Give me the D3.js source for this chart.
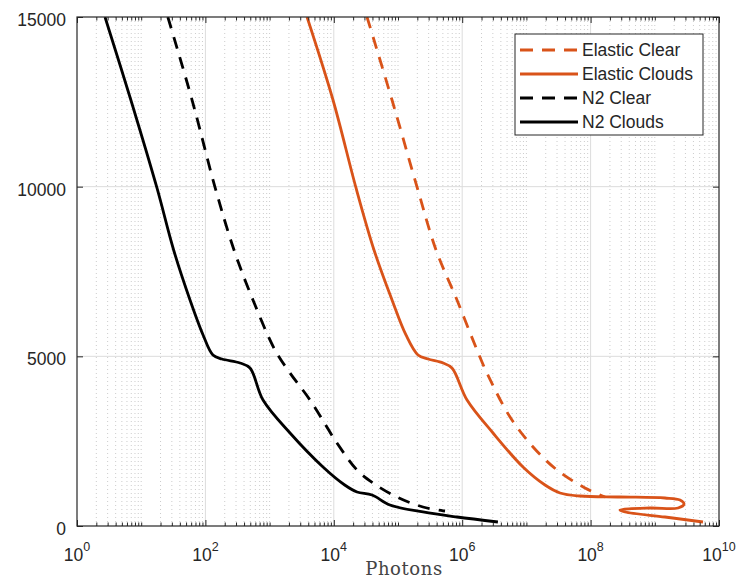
<!DOCTYPE html>
<html>
<head>
<meta charset="utf-8">
<script src="https://cdn.jsdelivr.net/npm/d3@7"></script>
<style>
  body { margin: 0; background: #fff; }
  svg { display: block; }
</style>
</head>
<body>
<svg id="chart" width="742" height="583"></svg>
<script>
// Altitude (m) against received photon count for each channel and sky condition

const photonsElasticClear = [32900, 80700, 198000, 391000, 830000, 1.70e6, 2.43e6, 5.56e6, 1.27e7, 3.0e7, 8.19e7, 1.68e8];
const altitudeElasticClear = [15000, 12554, 9990, 8134, 6660, 5187, 4509, 3212, 2328, 1650, 1120, 855];

const photonsElasticClouds = [3830, 9720, 22200, 42300, 80700, 133000, 205000, 293000, 502000, 693000, 1.19e6, 3.02e6, 8.85e6, 1.95e7, 3.34e7, 6.84e7, 2.87e8, 1.44e9, 2.47e9, 2.85e9, 2.30e9, 8.41e8, 2.87e8, 3.44e8, 1.44e9, 5.63e9];
const altitudeElasticClouds = [15000, 12554, 9961, 8134, 6660, 5629, 5039, 4921, 4804, 4656, 3713, 2741, 1739, 1208, 973, 884, 855, 825, 766, 648, 530, 530, 471, 413, 265, 118];

const photonsN2Clear = [26, 62, 141, 279, 551, 1213, 2080, 4260, 11200, 23000, 40800, 96500, 245000, 540000];
const altitudeN2Clear = [15000, 12554, 9990, 8134, 6660, 5187, 4509, 3713, 2446, 1650, 1267, 855, 560, 442];

const photonsN2Clouds = [2.73, 6.9, 17.6, 32, 57.6, 92, 131, 181, 346, 495, 790, 2080, 6790, 14800, 23000, 39400, 75000, 245000, 830000, 3.6e6];
const altitudeN2Clouds = [15000, 12554, 9961, 8134, 6660, 5629, 5039, 4921, 4804, 4656, 3713, 2741, 1739, 1208, 1002, 914, 619, 413, 265, 118];

const seriesNames = ["Elastic Clear", "Elastic Clouds", "N2 Clear", "N2 Clouds"];
const xTickExponents = [0, 2, 4, 6, 8, 10];
const yTickValues = [0, 5000, 10000, 15000];
const xAxisTitle = "Photons";

const ORANGE = "#D95319";
const INK = "#262626";

const series = [
  { name: seriesNames[0], xs: photonsElasticClear, ys: altitudeElasticClear, color: ORANGE, dashed: true },
  { name: seriesNames[1], xs: photonsElasticClouds, ys: altitudeElasticClouds, color: ORANGE, dashed: false },
  { name: seriesNames[2], xs: photonsN2Clear, ys: altitudeN2Clear, color: "#000", dashed: true },
  { name: seriesNames[3], xs: photonsN2Clouds, ys: altitudeN2Clouds, color: "#000", dashed: false }
];

const plot = { left: 77, right: 719, top: 17, bottom: 526 };
const svg = d3.select("#chart");
const font = "'Liberation Sans', Arial, Helvetica, sans-serif";

const x = d3.scaleLog().domain([1, 1e10]).range([plot.left, plot.right]);
const y = d3.scaleLinear().domain([0, 15000]).range([plot.bottom, plot.top]);

const majorX = xTickExponents.map(e => Math.pow(10, e));
const minorX = [];
for (let e = 0; e < 10; e++) {
  for (let k = 1; k <= 9; k++) {
    if (k === 1 && e % 2 === 0) continue;
    minorX.push(k * Math.pow(10, e));
  }
}

svg.append("rect").attr("width", 742).attr("height", 583).attr("fill", "#fff");

// grid
const grid = svg.append("g");
grid.selectAll(".minor").data(minorX).join("line")
  .attr("x1", d => x(d)).attr("x2", d => x(d))
  .attr("y1", plot.top).attr("y2", plot.bottom)
  .attr("stroke", "#cccccc").attr("stroke-width", 1)
  .attr("stroke-dasharray", "1,3");
grid.selectAll(".majx").data(majorX.slice(1, -1)).join("line")
  .attr("x1", d => x(d)).attr("x2", d => x(d))
  .attr("y1", plot.top).attr("y2", plot.bottom)
  .attr("stroke", "#dcdcdc").attr("stroke-width", 1);
grid.selectAll(".majy").data(yTickValues.slice(1, -1)).join("line")
  .attr("x1", plot.left).attr("x2", plot.right)
  .attr("y1", d => y(d)).attr("y2", d => y(d))
  .attr("stroke", "#dcdcdc").attr("stroke-width", 1);

// curves
const clipId = "plotclip";
svg.append("clipPath").attr("id", clipId).append("rect")
  .attr("x", plot.left).attr("y", plot.top)
  .attr("width", plot.right - plot.left).attr("height", plot.bottom - plot.top);

const line = d3.line()
  .x(d => x(d[0])).y(d => y(d[1]))
  .curve(d3.curveCatmullRom.alpha(0.5));

const curves = svg.append("g").attr("clip-path", `url(#${clipId})`);
series.forEach(s => {
  const pts = s.xs.map((v, i) => [v, s.ys[i]]);
  curves.append("path").datum(pts)
    .attr("d", line)
    .attr("fill", "none")
    .attr("stroke", s.color)
    .attr("stroke-width", 2.8)
    .attr("stroke-linejoin", "round")
    .attr("stroke-dasharray", s.dashed ? "12,9" : null);
});

// axes with inward ticks on all four sides
function styleAxis(g) {
  g.select(".domain").remove();
  g.selectAll("line").attr("stroke", INK);
  g.selectAll("text").remove();
}
svg.append("g").attr("transform", `translate(0,${plot.bottom})`)
  .call(d3.axisBottom(x).tickValues(majorX).tickSize(-6)).call(styleAxis);
svg.append("g").attr("transform", `translate(0,${plot.bottom})`)
  .call(d3.axisBottom(x).tickValues(minorX).tickSize(-3.5)).call(styleAxis);
svg.append("g").attr("transform", `translate(0,${plot.top})`)
  .call(d3.axisTop(x).tickValues(majorX).tickSize(-6)).call(styleAxis);
svg.append("g").attr("transform", `translate(0,${plot.top})`)
  .call(d3.axisTop(x).tickValues(minorX).tickSize(-3.5)).call(styleAxis);
svg.append("g").attr("transform", `translate(${plot.left},0)`)
  .call(d3.axisLeft(y).tickValues(yTickValues).tickSize(-6)).call(styleAxis);
svg.append("g").attr("transform", `translate(${plot.right},0)`)
  .call(d3.axisRight(y).tickValues(yTickValues).tickSize(-6)).call(styleAxis);

svg.append("rect")
  .attr("x", plot.left).attr("y", plot.top)
  .attr("width", plot.right - plot.left).attr("height", plot.bottom - plot.top)
  .attr("fill", "none").attr("stroke", INK).attr("stroke-width", 1.2);

// tick labels
svg.append("g").selectAll("text").data(yTickValues).join("text")
  .attr("x", plot.left - 11)
  .attr("y", d => y(d) + 9)
  .attr("text-anchor", "end")
  .attr("font-family", font).attr("font-size", 17.5)
  .attr("fill", INK)
  .text(d => d);

const xl = svg.append("g").selectAll("text").data(xTickExponents).join("text")
  .attr("x", d => x(Math.pow(10, d)))
  .attr("y", 561)
  .attr("text-anchor", "middle")
  .attr("font-family", font).attr("font-size", 17.5)
  .attr("fill", INK);
xl.append("tspan").text("10");
xl.append("tspan").attr("dy", -10).attr("font-size", 12.5).text(d => d);

svg.append("text")
  .attr("x", 404).attr("y", 575)
  .attr("text-anchor", "middle")
  .attr("font-family", "'DejaVu Serif', 'Liberation Serif', serif")
  .attr("font-size", 18).attr("letter-spacing", 0.6)
  .attr("fill", "#444")
  .text(xAxisTitle);

// legend
const lg = svg.append("g");
lg.append("rect").attr("x", 515).attr("y", 34).attr("width", 188).attr("height", 101)
  .attr("fill", "#fff").attr("stroke", INK).attr("stroke-width", 1);
series.forEach((s, i) => {
  const cy = 50 + i * 24;
  lg.append("line").attr("x1", 520).attr("x2", 578).attr("y1", cy).attr("y2", cy)
    .attr("stroke", s.color).attr("stroke-width", 2.8)
    .attr("stroke-dasharray", s.dashed ? "13,9" : null);
  lg.append("text").attr("x", 582).attr("y", cy + 6)
    .attr("font-family", font).attr("font-size", 17.5).attr("fill", INK)
    .text(s.name);
});
</script>
</body>
</html>
